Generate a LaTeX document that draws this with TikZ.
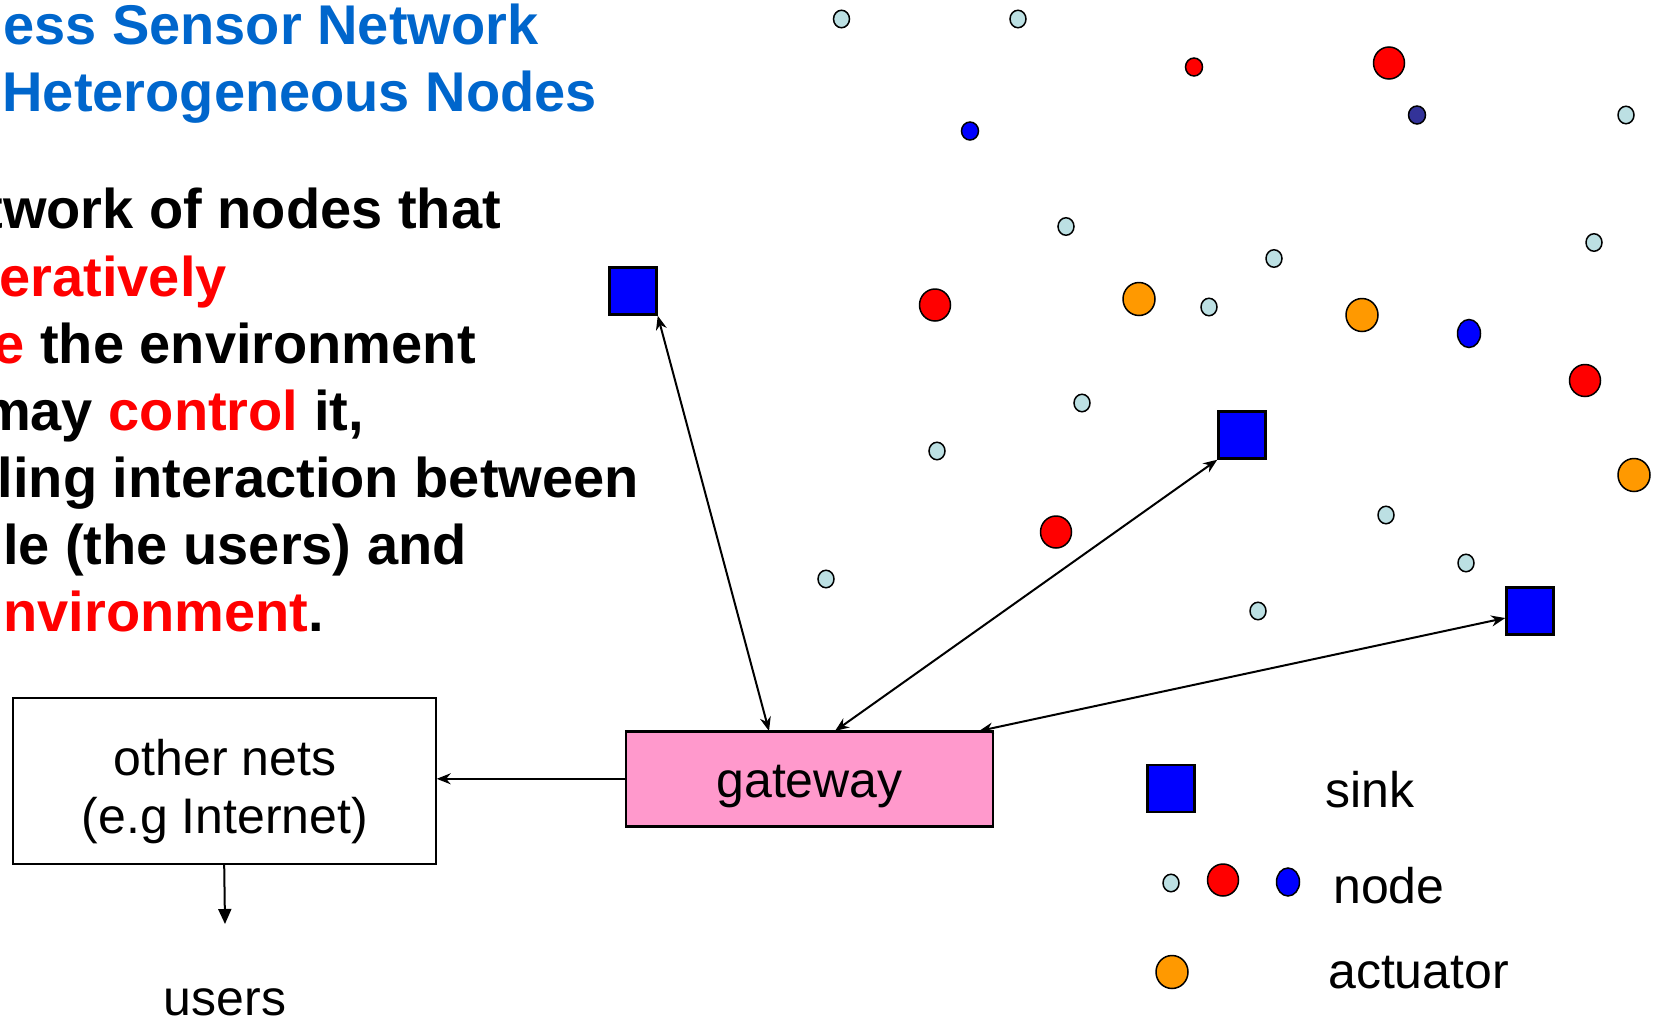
\documentclass[tikz,border=0pt]{standalone}
\usepackage{fontspec}
\setmainfont{Liberation Sans}
\usetikzlibrary{shapes.geometric,arrows.meta,calc}
\definecolor{titleblue}{HTML}{0066CC}
\definecolor{lbl}{HTML}{BCE0E3}
\definecolor{navyb}{HTML}{333399}
\definecolor{orng}{HTML}{FF9900}
\definecolor{pnk}{HTML}{FF99CC}
\definecolor{rd}{HTML}{FF0000}
\definecolor{bl}{HTML}{0000FF}
\begin{document}
\begin{tikzpicture}[x=1pt,y=-1pt,
  titletext/.style={anchor=base east,inner sep=0pt,text=titleblue,font=\fontsize{56}{62}\selectfont\bfseries},
  bodytext/.style={anchor=base east,inner sep=0pt,text=black,font=\fontsize{56}{62}\selectfont\bfseries},
  plaintext/.style={anchor=base,inner sep=0pt,text=black,font=\fontsize{50}{56}\selectfont},
  legtext/.style={anchor=base west,inner sep=0pt,text=black,font=\fontsize{50}{56}\selectfont},
  dot/.style={ellipse,draw=black,line width=1.5pt,inner sep=0pt},
  smalldot/.style={dot,fill=lbl,minimum width=16pt,minimum height=17.5pt},
  reddot/.style={dot,fill=rd,minimum width=31pt,minimum height=32pt},
  smallred/.style={dot,fill=rd,minimum width=17pt,minimum height=18pt},
  smallblue/.style={dot,fill=bl,minimum width=17pt,minimum height=18pt},
  navydot/.style={dot,fill=navyb,minimum width=17pt,minimum height=18pt},
  bluedot/.style={dot,fill=bl,minimum width=23pt,minimum height=28pt},
  actdot/.style={dot,fill=orng,minimum width=32pt,minimum height=33pt},
  sinkbox/.style={rectangle,draw=black,line width=2.5pt,fill=bl,minimum size=47pt,inner sep=0pt},
  link/.style={line width=2pt,{Stealth[length=14pt,width=11pt]}-{Stealth[length=14pt,width=11pt]}},
  oneway/.style={line width=2pt,-{Stealth[length=14pt,width=11pt]}}
]
\useasboundingbox (0,0) rectangle (1666,1023);

% title
\node[titletext] (t1) at (538.7,44.6) {ess Sensor Network};
\node[titletext] (t2) at (597,111.6) {Heterogeneous Nodes};

% body text
\node[bodytext] (b1) at (501,228.8) {twork of nodes that};
\node[bodytext] (b2) at (227,296.5) {\color{rd}eratively};
\node[bodytext] (b3) at (476,363.5) {{\color{rd}e} the environment};
\node[bodytext] (b4) at (364,430.5) {may {\color{rd}control} it,};
\node[bodytext] (b5) at (639,497.5) {lling interaction between};
\node[bodytext] (b6) at (467,564.5) {le (the users) and};
\node[bodytext] (b7) at (324,631.5) {{\color{rd}nvironment}.};

% sensor field
\node[smalldot] (n1) at (841.5,19) {};
\node[smalldot] (n2) at (1018,19) {};
\node[smalldot] (n3) at (1626,115) {};
\node[smalldot] (n4) at (1066,226.5) {};
\node[smalldot] (n5) at (1274,258.5) {};
\node[smalldot] (n6) at (1594,242.5) {};
\node[smalldot] (n7) at (1209,307) {};
\node[smalldot] (n8) at (1082,403) {};
\node[smalldot] (n9) at (937,451) {};
\node[smalldot] (n10) at (1386,515) {};
\node[smalldot] (n11) at (1466,563) {};
\node[smalldot] (n12) at (826,579) {};
\node[smalldot] (n13) at (1258,611) {};

\node[smallred] (r1) at (1194,67) {};
\node[reddot] (r2) at (1389,63) {};
\node[reddot] (r3) at (935,305) {};
\node[reddot] (r4) at (1585,380.5) {};
\node[reddot] (r5) at (1056,532) {};

\node[smallblue] (bb1) at (970,131) {};
\node[navydot] (bb2) at (1417,115) {};
\node[bluedot] (bb3) at (1469,333.5) {};

\node[actdot] (a1) at (1139,299) {};
\node[actdot] (a2) at (1362,315) {};
\node[actdot] (a3) at (1634,475) {};

% sinks
\node[sinkbox] (s1) at (633,291) {};
\node[sinkbox] (s2) at (1242,435) {};
\node[sinkbox] (s3) at (1530,611) {};

% gateway and other nets
\node[rectangle,draw=black,line width=2.5pt,fill=pnk,minimum width=367pt,minimum height=95pt,inner sep=0pt] (gw) at (809.6,778.8) {};
\node[plaintext] (gwt) at (809.6,797.5) {gateway};

\node[rectangle,draw=black,line width=2pt,minimum width=423pt,minimum height=166pt,inner sep=0pt] (on) at (224.2,781) {};
\node[plaintext] (ont1) at (225,775.5) {other nets};
\node[plaintext] (ont2) at (225,833) {(e.g Internet)};

\node[plaintext] (users) at (225,1015) {users};

% connectors
\coordinate (g1) at (769,731);
\coordinate (g2) at (835,731);
\coordinate (g3) at (979,731);
\coordinate (s3in) at ($(s3.west)+(0,7)$);
\coordinate (udown) at (225,924);

\draw[link] (s1.south east) -- (g1);
\draw[link] (s2.south west) -- (g2);
\draw[link] (s3in) -- (g3);
\draw[oneway] (gw.west) -- (gw.west -| on.east);
\draw[line width=2pt,-{Triangle[length=15pt,width=13pt]}] (on.south) -- (udown);

% legend
\node[sinkbox] (ls) at (1171,788.5) {};
\node[legtext] (lst) at (1325,807.5) {sink};
\node[smalldot] (ln1) at (1171,883) {};
\node[reddot] (ln2) at (1223,880) {};
\node[bluedot] (ln3) at (1288,882) {};
\node[legtext] (lnt) at (1333,903) {node};
\node[actdot] (la) at (1172,972) {};
\node[legtext] (lat) at (1328,988) {actuator};
\end{tikzpicture}
\end{document}
